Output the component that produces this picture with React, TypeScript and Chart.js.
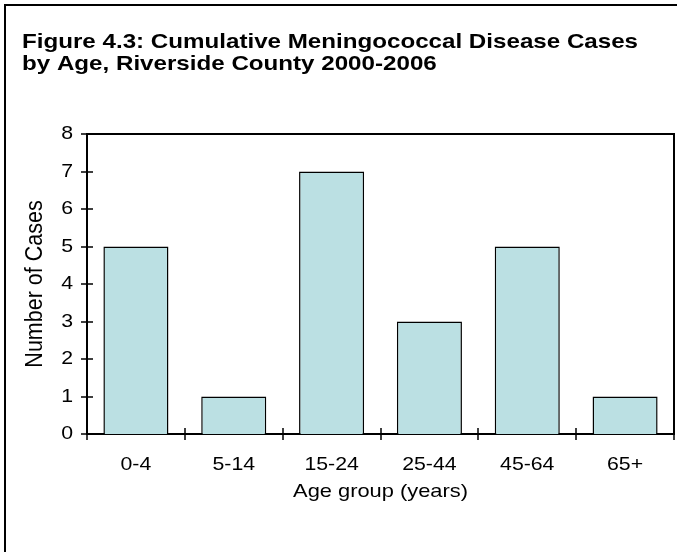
import { useEffect, useRef } from "react";
import { Chart, registerables } from "chart.js";

Chart.register(...registerables);

const categories = ["0-4", "5-14", "15-24", "25-44", "45-64", "65+"];
const cases = [5, 1, 7, 3, 5, 1];
const yTickValues = [0, 1, 2, 3, 4, 5, 6, 7, 8];
const titleLines = [
  "Figure 4.3: Cumulative Meningococcal Disease Cases",
  "by Age, Riverside County 2000-2006",
];
const xAxisTitle = "Age group (years)";
const yAxisTitle = "Number of Cases";

const SX = 1.15;
const FONT = "'Liberation Sans', Arial, Helvetica, sans-serif";

const stretchTextPlugin = {
  id: "stretchText",
  beforeInit(chart: any) {
    const ctx = chart.ctx as any;
    if (ctx.__stretched) return;
    ctx.__stretched = true;
    const orig = ctx.fillText.bind(ctx);
    ctx.fillText = (text: string, x: number, y: number, maxWidth?: number) => {
      const m = ctx.getTransform();
      ctx.save();
      ctx.translate(x, y);
      if (Math.abs(m.b) > 0.5) ctx.scale(1, SX);
      else ctx.scale(SX, 1);
      if (maxWidth !== undefined) orig(text, 0, 0, maxWidth / SX);
      else orig(text, 0, 0);
      ctx.restore();
    };
  },
};

const frameTicksPlugin = {
  id: "frameTicks",
  afterDatasetsDraw(chart: any) {
    const { ctx, chartArea: a, scales } = chart;
    const x = scales.x;
    const y = scales.y;
    ctx.save();
    ctx.strokeStyle = "#000";
    ctx.lineWidth = 2;
    ctx.beginPath();
    ctx.moveTo(a.left, a.top);
    ctx.lineTo(a.right, a.top);
    ctx.lineTo(a.right, a.bottom);
    ctx.stroke();
    ctx.lineWidth = 1.5;
    ctx.beginPath();
    yTickValues.forEach((v) => {
      const py = Math.round(y.getPixelForValue(v));
      ctx.moveTo(a.left - 6, py);
      ctx.lineTo(a.left + 6, py);
    });
    for (let i = 0; i <= categories.length; i++) {
      const px = Math.round(x.getPixelForValue(i - 0.5));
      ctx.moveTo(px, a.bottom - 6);
      ctx.lineTo(px, a.bottom + 6);
    }
    ctx.stroke();
    ctx.restore();
  },
};

export default function App() {
  const canvasRef = useRef<HTMLCanvasElement | null>(null);

  useEffect(() => {
    const canvas = canvasRef.current;
    if (!canvas) return;
    const chart = new Chart(canvas, {
      type: "bar",
      data: {
        labels: categories,
        datasets: [
          {
            data: cases,
            backgroundColor: "#BBE0E3",
            borderColor: "#000",
            borderWidth: 1.5,
            barPercentage: 1,
            categoryPercentage: 0.665,
          },
        ],
      },
      options: {
        animation: false,
        responsive: false,
        maintainAspectRatio: false,
        layout: { padding: { left: 22, right: 3, top: 10, bottom: 48 } },
        plugins: {
          legend: { display: false },
          tooltip: { enabled: false },
          title: {
            display: true,
            text: titleLines,
            align: "start",
            color: "#000",
            font: { family: FONT, size: 21, weight: "bold", lineHeight: 22 / 21 },
            padding: { top: 21.5, bottom: 58.5 },
          },
        },
        scales: {
          x: {
            type: "category",
            offset: true,
            grid: { display: false, drawTicks: false },
            border: { display: true, color: "#000", width: 2 },
            ticks: { color: "#000", font: { family: FONT, size: 18.5 }, padding: 20 },
            title: {
              display: true,
              text: xAxisTitle,
              color: "#000",
              font: { family: FONT, size: 19 },
              padding: { top: 0, bottom: 1 },
            },
            afterFit(s: any) {
              s.height = 70;
            },
          },
          y: {
            min: 0,
            max: 8,
            grid: { display: false, drawTicks: false },
            border: { display: true, color: "#000", width: 2 },
            ticks: {
              stepSize: 1,
              color: "#000",
              font: { family: FONT, size: 18.5 },
              padding: 14,
            },
            title: {
              display: true,
              text: yAxisTitle,
              color: "#000",
              font: { family: FONT, size: 21.5 },
              padding: 0,
            },
            afterFit(s: any) {
              s.width = 65;
            },
          },
        },
      },
      plugins: [stretchTextPlugin, frameTicksPlugin],
    } as any);
    return () => chart.destroy();
  }, []);

  return (
    <div
      style={{
        position: "fixed",
        left: 0,
        top: 0,
        width: 677,
        height: 552,
        overflow: "hidden",
        background: "#fff",
      }}
    >
      <div
        style={{
          position: "absolute",
          left: 4,
          top: 4,
          width: 720,
          height: 620,
          border: "2px solid #000",
          boxSizing: "border-box",
        }}
      />
      <canvas
        ref={canvasRef}
        width={677}
        height={552}
        style={{ position: "absolute", left: 0, top: 0, width: 677, height: 552 }}
      />
    </div>
  );
}
